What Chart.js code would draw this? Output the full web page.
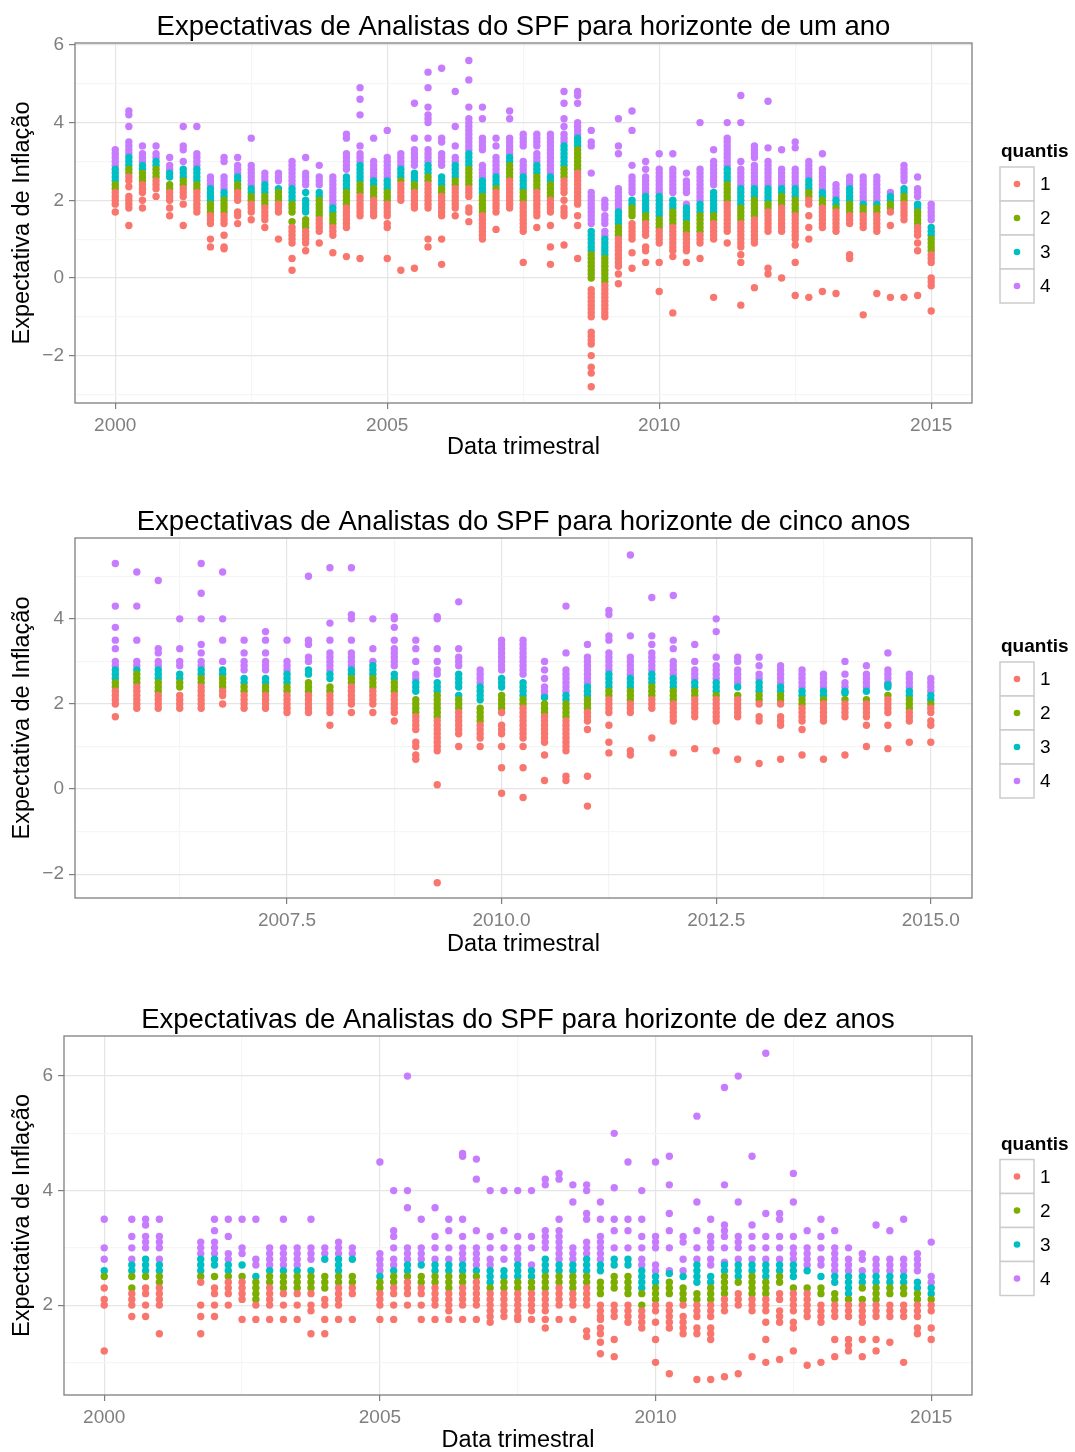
<!DOCTYPE html>
<html lang="pt">
<head>
<meta charset="utf-8">
<title>Expectativas de Analistas do SPF</title>
<script src="https://cdn.jsdelivr.net/npm/chart.js@4.4.1/dist/chart.umd.min.js"></script>
<style>
  body { margin: 0; background: #fff; width: 1075px; height: 1452px; position: relative; overflow: hidden; }
  .painel { position: absolute; left: 0; width: 1075px; }
</style>
</head>
<body>
<div class="painel" style="top:0;height:470px"><canvas id="grafUmAno"></canvas></div>
<div class="painel" style="top:495px;height:470px"><canvas id="grafCincoAnos"></canvas></div>
<div class="painel" style="top:993px;height:459px"><canvas id="grafDezAnos"></canvas></div>
<script>
// Cada string = valores de um trimestre (separados por espaço), por quantil

// ---------- horizonte de um ano ----------
const umAnoDatas = [
  2000, 2000.25, 2000.5, 2000.75, 2001, 2001.25, 2001.5, 2001.75, 2002, 2002.25, 2002.5, 2002.75,
  2003, 2003.25, 2003.5, 2003.75, 2004, 2004.25, 2004.5, 2004.75, 2005, 2005.25, 2005.5, 2005.75,
  2006, 2006.25, 2006.5, 2006.75, 2007, 2007.25, 2007.5, 2007.75, 2008, 2008.25, 2008.5, 2008.75,
  2009, 2009.25, 2009.5, 2009.75, 2010, 2010.25, 2010.5, 2010.75, 2011, 2011.25, 2011.5, 2011.75,
  2012, 2012.25, 2012.5, 2012.75, 2013, 2013.25, 2013.5, 2013.75, 2014, 2014.25, 2014.5, 2014.75, 2015
];
const umAnoQ1 = [
  "1.7 1.9 2.0 2.1 2.2", "1.35 1.8 1.9 2.0 2.1 2.35 2.5 2.6", "1.8 2.0 2.2 2.3 2.4", "2.1 2.3 2.4 2.5",
  "1.6 1.8 2.0 2.1 2.2", "1.35 1.9 2.1 2.2 2.3", "1.7 1.8 1.9 2.0 2.1 2.2", "0.8 1.0 1.4 1.5 1.6",
  "0.75 0.8 1.1 1.4 1.5 1.6", "1.4 1.6 1.7 2.0 2.1 2.2", "1.5 1.7 1.8 1.9", "1.3 1.5 1.6 1.7 1.8",
  "1.0 1.7 1.8 1.9", "0.2 0.5 0.9 1.0 1.1 1.2 1.3", "0.7 0.9 1.0 1.1 1.2", "0.9 1.2 1.3 1.4 1.5",
  "0.65 1.1 1.2 1.3", "0.55 1.3 1.4 1.5 1.6 1.7 1.8", "0.5 1.6 1.7 1.8 1.9 2.0 2.1", "1.6 1.7 1.8 1.9 2.0",
  "0.5 1.3 1.4 1.6 1.7 1.8 1.9", "0.2 2.0 2.1 2.2 2.3 2.4", "0.25 1.8 1.9 2.0 2.1 2.2", "0.8 1.0 1.8 1.9 2.0 2.1 2.2 2.3 2.4",
  "0.35 1.0 1.6 1.7 1.8 1.9 2.0 2.1", "1.6 1.8 1.9 2.0 2.1 2.2 2.3", "1.45 1.7 1.8 2.1 2.2 2.3", "1.0 1.1 1.2 1.3 1.4 1.5 1.6",
  "1.25 1.7 1.8 1.9 2.0 2.1 2.2", "1.8 1.9 2.0 2.1 2.2 2.3 2.4 2.5", "0.4 1.2 1.3 1.4 1.5 1.6 1.7 1.8 1.9", "1.3 1.6 1.7 1.8 1.9 2.0 2.1 2.2",
  "0.35 0.8 1.35 1.7 1.8 1.9 2.0", "0.85 1.6 1.7 1.8 2.0 2.2 2.3 2.4 2.5", "0.5 1.35 1.6 1.9 2.0 2.1 2.2 2.3 2.4 2.5 2.6 2.7",
  "-2.8 -2.45 -2.3 -2.0 -1.7 -1.6 -1.5 -1.4 -1.0 -0.9 -0.8 -0.7 -0.6 -0.5 -0.4 -0.3",
  "-1.0 -0.9 -0.8 -0.7 -0.6 -0.5 -0.4 -0.3 -0.2", "-0.15 0.1 0.3 0.4 0.5 0.6 0.7 0.8 0.9 1.0", "0.25 0.65 1.0 1.1 1.2 1.3 1.4",
  "0.4 0.7 0.8 1.1 1.2 1.3 1.4", "-0.35 0.4 0.9 1.0 1.1 1.2", "-0.9 0.55 0.7 0.8 0.9 1.0 1.1 1.2 1.3", "0.4 0.7 0.8 0.9 1.0 1.1",
  "0.5 0.9 1.0 1.1", "-0.5 1.0 1.1 1.2 1.3 1.4", "0.9 1.2 1.3 1.4 1.5 1.6 1.7 1.8 1.9", "-0.7 0.4 0.6 0.8 0.9 1.0 1.1 1.2 1.3 1.4",
  "-0.25 0.9 1.0 1.1 1.2 1.3 1.4 1.5", "0.1 0.25 1.2 1.3 1.4 1.5 1.6 1.7", "0.0 1.2 1.3 1.4 1.5 1.6 1.7 1.8",
  "-0.45 0.4 0.85 1.0 1.1 1.2 1.3 1.4 1.5 1.6", "-0.5 1.0 1.3 1.6 1.9 2.0", "-0.35 1.3 1.4 1.5 1.6 1.7 1.8",
  "-0.4 1.2 1.3 1.4 1.5 1.6 1.7", "0.5 0.6 1.4 1.5 1.6", "-0.95 1.3 1.4 1.5 1.6", "-0.4 1.2 1.3 1.4 1.5 1.6",
  "-0.5 1.35 1.7", "-0.5 1.5 1.6 1.7 1.8 1.9", "-0.45 0.7 0.9 1.1 1.2 1.3", "-0.85 -0.2 -0.1 0.0 0.4 0.5 0.6"
];
const umAnoQ2 = [
  "2.3 2.4", "2.7 2.8", "2.5 2.6 2.7", "2.6 2.7 2.8", "2.3 2.4", "2.4 2.5", "2.3 2.4", "1.7 1.8 1.9",
  "1.7 1.8 1.9 2.0", "2.3 2.4", "2.0 2.1", "1.9 2.0 2.1", "2.0 2.1 2.2", "1.45 1.7 1.8 1.9", "1.3 1.4 1.5",
  "1.6 1.7 1.8 1.9 2.0", "1.4 1.5 1.6", "1.9 2.0 2.1 2.2", "2.2 2.3 2.4", "2.1 2.2 2.3", "2.0 2.1 2.2",
  "2.5", "2.3 2.4", "2.5 2.6", "2.2 2.3", "2.4 2.5", "2.4 2.5 2.6 2.7 2.8", "1.7 1.8 1.9 2.0 2.1", "2.3",
  "2.6 2.7 2.8 2.9", "2.0 2.1 2.2", "2.3 2.4 2.5 2.6", "2.1 2.2 2.3 2.4", "2.6 2.7 2.8", "2.8 2.9 3.0 3.1 3.2 3.3",
  "0.0 0.1 0.2 0.3 0.4 0.5 0.6", "-0.1 0.0 0.1 0.2 0.3 0.4 0.5", "1.1 1.2 1.3", "1.6 1.7 1.8", "1.5 1.6",
  "1.3 1.4 1.5", "1.4 1.5 1.6 1.7", "1.2 1.3 1.4", "1.2 1.3 1.4 1.5 1.6", "1.5 1.6", "2.0 2.1 2.2 2.3 2.4",
  "1.5 1.6 1.7 1.8", "1.6 1.7 1.8 1.9 2.0", "1.8 1.9", "1.9 2.0 2.1", "1.7 1.8 1.9 2.0", "2.1 2.2", "1.9 2.0",
  "1.8", "1.7 1.8 1.9", "1.7 1.8", "1.7 1.8", "1.8 1.9", "2.0 2.1", "1.4 1.5 1.6 1.7", "0.7 0.8 0.9 1.0"
];
const umAnoQ3 = [
  "2.5 2.6 2.7 2.8", "2.9 3.0 3.1", "2.8 2.9", "2.9 3.0", "2.6 2.7", "2.6 2.7 2.8", "2.5 2.6 2.7 2.8", "2.0 2.1 2.2 2.3",
  "2.1 2.2", "2.5 2.6", "2.2 2.3", "2.2 2.3 2.4", "2.3", "2.0 2.1 2.2 2.3", "1.7 1.8 1.9 2.0 2.2",
  "2.1 2.2", "1.7 1.8", "2.3 2.4 2.5 2.6", "2.5 2.6 2.7 2.8 2.9", "2.4 2.5", "2.3 2.4 2.5",
  "2.6 2.7 2.8", "2.5 2.6 2.7", "2.7 2.8 2.9", "2.4 2.5 2.6", "2.6 2.7 2.8 2.9", "2.9 3.0 3.1 3.2", "2.2 2.3 2.4 2.5", "2.4 2.5 2.6",
  "3.0 3.1", "2.3 2.4 2.5 2.6", "2.7 2.8 2.9", "2.5 2.6", "2.9 3.0 3.1 3.2 3.3 3.4", "3.4 3.5 3.6",
  "0.7 0.8 0.9 1.0 1.1 1.2", "0.6 0.7 0.8 0.9 1.0", "1.4 1.5 1.6 1.7", "1.9 2.0", "1.7 1.8 1.9 2.0 2.1",
  "1.6 1.7 1.8 1.9 2.0 2.1", "1.8 1.9 2.0", "1.5 1.6 1.7 1.8", "1.7 1.8 1.9", "1.7 1.8 1.9 2.0 2.1 2.2", "2.5 2.6 2.7 2.8",
  "1.9 2.0 2.1 2.2 2.3", "2.1 2.2 2.3", "2.0 2.1 2.2 2.3", "2.2 2.3", "2.1 2.2 2.3", "2.3 2.4 2.5", "2.1 2.2",
  "1.9 2.0", "2.0 2.1 2.2 2.3", "1.9", "1.9", "2.0 2.1", "2.2 2.3", "1.8 1.9", "1.1 1.2 1.3"
];
const umAnoQ4 = [
  "2.9 3.0 3.1 3.2 3.3", "3.2 3.3 3.4 3.5 3.9 4.2 4.3", "3.0 3.1 3.2 3.4", "3.1 3.2 3.4", "2.8 2.9 3.1",
  "3.0 3.3 3.4 3.9", "2.9 3.0 3.1 3.2 3.9", "2.4 2.5 2.6", "2.3 2.4 2.5 2.6 3.0 3.1", "2.7 2.8 2.9 3.1",
  "2.4 2.5 2.6 2.7 2.8 2.9 3.6", "2.5 2.6 2.7", "2.5 2.6 2.7", "2.4 2.5 2.6 2.7 2.8 2.9 3.0", "2.4 2.5 2.6 2.7 3.1",
  "2.4 2.5 2.6 2.9", "1.9 2.0 2.1 2.2 2.3 2.4 2.5 2.6", "2.8 2.9 3.0 3.1 3.2 3.6 3.7", "3.0 3.1 3.2 3.4 4.2 4.6 4.9",
  "2.6 2.7 2.8 2.9 3.0 3.6", "2.6 2.7 2.8 2.9 3.0 3.1 3.8", "2.9 3.0 3.1 3.2", "2.9 3.0 3.1 3.2 3.3 3.6 4.5",
  "3.0 3.1 3.2 3.3 3.6 4.0 4.1 4.2 4.4 4.9 5.3", "2.9 3.0 3.1 3.2 3.5 3.6 5.4", "3.0 3.1 3.4 3.9 4.8",
  "3.3 3.4 3.5 3.6 3.7 3.8 3.9 4.0 4.1 4.4 5.1 5.6", "2.6 2.7 2.8 2.9 3.3 3.4 3.5 3.6 4.1 4.4", "2.7 2.8 2.9 3.0 3.1 3.4 3.6",
  "3.2 3.3 3.4 3.5 3.6 4.1 4.3", "2.7 2.8 2.9 3.0 3.4 3.5 3.6 3.7", "3.0 3.1 3.2 3.4 3.5 3.6 3.7",
  "2.7 2.8 2.9 3.0 3.1 3.2 3.3 3.4 3.5 3.6 3.7", "3.5 3.6 3.7 3.9 4.1 4.5 4.8", "3.7 3.8 3.9 4.0 4.5 4.7 4.8",
  "1.4 1.5 1.6 1.7 1.8 1.9 2.0 2.1 2.2 2.7 3.4 3.5 3.8", "1.1 1.2 1.4 1.5 1.6 1.8 1.9 2.0", "1.8 1.9 2.0 2.1 2.2 2.3 3.2 3.4 4.1",
  "2.2 2.3 2.4 2.5 2.6 2.9 3.8 4.3", "2.2 2.3 2.4 2.5 2.6 2.8 3.0", "2.2 2.3 2.4 2.5 2.6 2.7 2.8 3.2",
  "2.2 2.3 2.4 2.5 2.6 2.7 2.8 3.2", "1.9 2.2 2.3 2.4 2.5 2.7", "2.0 2.1 2.2 2.3 2.4 2.5 2.6 2.7 2.8 4.0",
  "2.4 2.5 2.6 2.7 2.8 2.9 3.0 3.3", "2.9 3.0 3.1 3.2 3.3 3.4 3.5 3.6 4.0", "2.4 2.5 2.6 2.7 2.8 3.0 4.0 4.7",
  "2.4 2.5 2.6 2.7 2.8 2.9 3.1 3.2 3.3 3.4", "2.4 2.5 2.6 2.7 2.8 2.9 3.0 3.35 4.55", "2.4 2.5 2.6 2.7 2.8 3.3",
  "2.4 2.5 2.6 2.7 2.8 3.35 3.5", "2.6 2.7 2.8 2.9 3.0", "2.3 2.4 2.5 2.6 2.7 2.8 3.2", "2.1 2.2 2.3 2.4",
  "2.4 2.5 2.6", "2.0 2.1 2.2 2.3 2.4 2.5 2.6", "2.0 2.1 2.2 2.3 2.4 2.5 2.6", "2.2", "2.5 2.6 2.7 2.8 2.9",
  "2.1 2.2 2.3 2.6", "1.5 1.6 1.7 1.8 1.9"
];

// ---------- horizonte de cinco anos ----------
const cincoAnosDatas = [
  2005.5, 2005.75, 2006, 2006.25, 2006.5, 2006.75, 2007, 2007.25, 2007.5, 2007.75, 2008, 2008.25, 2008.5,
  2008.75, 2009, 2009.25, 2009.5, 2009.75, 2010, 2010.25, 2010.5, 2010.75, 2011, 2011.25, 2011.5, 2011.75,
  2012, 2012.25, 2012.5, 2012.75, 2013, 2013.25, 2013.5, 2013.75, 2014, 2014.25, 2014.5, 2014.75, 2015
];
const cincoAnosQ1 = [
  "1.7 2.0 2.1 2.2 2.3", "1.9 2.0 2.1 2.2 2.3 2.4", "1.9 2.0 2.1 2.2", "1.9 2.0 2.1 2.2", "1.9 2.0 2.1 2.2 2.3 2.4",
  "2.0 2.2 2.3", "1.9 2.0 2.1 2.2", "1.9 2.0 2.1 2.2", "1.8 1.9 2.0 2.1 2.2", "1.8 1.9 2.0 2.1 2.2",
  "1.5 1.8 1.9 2.0 2.1 2.2", "1.8 2.0 2.1 2.2 2.3 2.4", "1.8 2.0 2.1 2.2 2.3", "1.6 1.8 1.9 2.0 2.1 2.2",
  "0.7 0.8 1.0 1.1 1.4 1.5 1.6 1.7", "-2.2 0.1 0.9 1.0 1.1 1.2 1.3 1.4 1.5 1.6", "1.0 1.3 1.4 1.5 1.6 1.7 1.8",
  "1.0 1.2 1.3 1.4 1.5", "-0.1 0.5 1.0 1.3 1.4 1.5 1.8", "-0.2 0.5 1.0 1.2 1.3 1.4 1.5 1.6 1.7 1.8 1.9",
  "0.2 0.8 1.1 1.2 1.3 1.4 1.5 1.6 1.7", "0.2 0.3 0.9 1.0 1.1 1.2 1.3 1.4 1.5 1.6", "-0.4 0.3 1.4 1.6 1.7 1.8",
  "0.85 1.1 1.5 1.8 1.9 2.0 2.1", "0.8 0.9 1.8 1.9 2.0", "1.2 1.9 2.0 2.1", "0.85 1.6 1.7 1.8 1.9 2.0",
  "0.95 1.7 1.8 1.9 2.0 2.1", "0.9 1.6 1.7 1.8 1.9 2.0 2.1", "0.7 1.7 1.8 1.9 2.0 2.1", "0.6 1.6 1.7 2.0",
  "0.7 1.5 1.6 1.7 2.0", "0.8 1.4 1.6 1.7 1.8 1.9", "0.7 1.6 1.7 1.8 1.9 2.0", "0.8 1.7 1.8 1.9 2.0",
  "1.0 1.5 1.7 1.8 1.9 2.0", "0.95 1.5 1.8 1.9 2.0 2.1", "1.1 1.6 1.7 1.8", "1.1 1.5 1.6 1.8 1.9"
];
const cincoAnosQ2 = [
  "2.4 2.5", "2.5 2.6 2.7", "2.3 2.4 2.5", "2.4 2.5", "2.5 2.6", "2.4 2.5 2.6", "2.3 2.4", "2.3 2.4", "2.3 2.4",
  "2.3 2.4 2.5", "2.3 2.4", "2.5 2.6", "2.4 2.5 2.6", "2.3 2.4 2.5", "1.8 1.9 2.0 2.1", "1.7 1.8 1.9 2.0 2.1 2.2",
  "1.9 2.0 2.1", "1.6 1.7 1.8 1.9", "1.9 2.0 2.1 2.2", "2.0 2.1", "1.8 1.9 2.0", "1.7 1.8 1.9 2.0", "1.9 2.0 2.1",
  "2.2 2.3", "2.1 2.2 2.3", "2.2 2.3 2.4", "2.1 2.2 2.3", "2.2 2.3", "2.2", "2.2", "2.1 2.2", "2.1 2.2", "2.0 2.1",
  "2.1", "2.1", "2.1", "2.2", "1.9 2.0 2.1", "2.0"
];
const cincoAnosQ3 = [
  "2.6 2.7 2.8", "2.8", "2.6 2.7 2.8", "2.6 2.7", "2.7 2.8", "2.7 2.8", "2.5 2.6", "2.5 2.6", "2.5 2.6 2.7",
  "2.7 2.8", "2.6 2.7", "2.7 2.8", "2.7 2.8 2.9", "2.6 2.7", "2.3 2.4 2.5", "2.3 2.4 2.5", "2.2 2.4 2.5 2.6 2.7",
  "2.1 2.2 2.3 2.4", "2.4 2.5 2.6", "2.2 2.3 2.4 2.5", "2.15", "2.1 2.2", "2.2 2.3 2.4", "2.4 2.5 2.6 2.7",
  "2.4 2.5 2.6", "2.5 2.6 2.7", "2.4 2.5 2.6", "2.4 2.5", "2.3 2.4 2.5", "2.4", "2.3 2.4 2.5", "2.3 2.4",
  "2.2 2.3", "2.2 2.3", "2.25 2.3", "2.3", "2.4 2.45", "2.2 2.3", "2.1 2.2"
];
const cincoAnosQ4 = [
  "2.9 3.0 3.3 3.5 3.8 4.3 5.3", "2.9 3.0 3.5 4.3 5.1", "2.9 3.0 3.2 3.3 4.9", "2.9 3.0 3.3 4.0",
  "2.9 3.0 3.2 3.4 4.0 4.6 5.3", "3.0 3.5 4.0 5.1", "2.8 2.9 3.0 3.2 3.5", "2.8 2.9 3.0 3.2 3.5 3.7",
  "2.8 2.9 3.0 3.5", "3.0 3.1 3.4 3.5 5.0", "2.8 2.9 3.0 3.1 3.2 3.5 3.9 5.2", "2.9 3.0 3.1 3.2 3.5 4.0 4.1 5.2",
  "3.0 3.3 4.0", "2.9 3.0 3.1 3.2 3.3 3.5 3.8 4.0 4.05", "2.6 2.7 3.0 3.3 3.5", "2.7 2.8 3.0 3.3 4.0 4.05",
  "2.9 3.0 3.1 3.3 4.4", "2.5 2.6 2.7 2.8", "2.8 2.9 3.0 3.1 3.2 3.3 3.4 3.5", "2.7 2.8 2.9 3.0 3.1 3.2 3.3 3.4 3.5",
  "2.2 2.3 2.4 2.6 2.8 3.0", "2.3 2.4 2.5 2.6 2.7 2.8 3.2 4.3", "2.5 2.6 2.7 2.8 2.9 3.0 3.1 3.4",
  "2.8 2.9 3.0 3.1 3.2 3.5 3.6 4.1 4.2", "2.7 2.8 2.9 3.0 3.1 3.6 5.5", "2.8 2.9 3.0 3.1 3.2 3.4 3.6 4.5",
  "2.7 2.8 2.9 3.0 3.3 3.5 4.55", "2.6 2.7 2.8 3.0 3.4", "2.6 2.7 2.8 2.9 3.1 3.7 4.0", "2.5 2.6 2.7 2.8 3.0 3.1",
  "2.6 2.7 2.9 3.1", "2.5 2.6 2.7 2.8 2.9", "2.4 2.5 2.6 2.7 2.8", "2.4 2.5 2.6 2.7", "2.4 2.5 2.7 3.0",
  "2.4 2.5 2.6 2.7 2.9", "2.5 2.6 2.7 2.8 3.2", "2.4 2.5 2.6 2.7", "2.3 2.4 2.5 2.6"
];

// ---------- horizonte de dez anos ----------
const dezAnosDatas = [
  2000, 2000.5, 2000.75, 2001, 2001.75, 2002, 2002.25, 2002.5, 2002.75, 2003, 2003.25, 2003.5, 2003.75,
  2004, 2004.25, 2004.5, 2005, 2005.25, 2005.5, 2005.75, 2006, 2006.25, 2006.5, 2006.75, 2007, 2007.25,
  2007.5, 2007.75, 2008, 2008.25, 2008.5, 2008.75, 2009, 2009.25, 2009.5, 2009.75, 2010, 2010.25, 2010.5,
  2010.75, 2011, 2011.25, 2011.5, 2011.75, 2012, 2012.25, 2012.5, 2012.75, 2013, 2013.25, 2013.5, 2013.75,
  2014, 2014.25, 2014.5, 2014.75, 2015
];
const dezAnosQ1 = [
  "1.2 2.0 2.1 2.3", "1.8 2.0 2.1 2.2", "1.8 2.0 2.2 2.3", "1.5 2.0 2.1 2.2 2.3", "1.5 1.8 2.0 2.4",
  "1.8 2.0 2.2 2.3", "2.0 2.2 2.3 2.4", "1.75 2.1 2.2 2.3 2.4", "1.75 2.0", "1.75 2.0 2.1 2.2 2.3",
  "1.75 2.0 2.2", "1.75 2.0 2.2", "1.5 1.9 2.0 2.2", "1.5 1.75 2.0 2.1", "1.75 2.0 2.1 2.2 2.3", "1.75 2.2 2.3",
  "1.75 2.0 2.1 2.2", "1.75 2.0 2.2 2.3", "2.0 2.2 2.3 2.4", "1.75 2.0 2.2 2.3", "1.75 2.0 2.1 2.2 2.3",
  "1.75 1.9 2.0 2.1 2.2", "1.75 2.0 2.1 2.2 2.3", "1.75 2.0 2.1 2.2 2.3 2.4", "1.7 1.8 1.9 2.0 2.1 2.2",
  "1.8 1.9 2.0 2.1 2.2", "1.75 1.8 1.9 2.0 2.1 2.2", "1.75 1.9 2.0 2.1 2.2", "1.6 1.75 1.9 2.0 2.1 2.2",
  "1.75 2.0 2.1 2.2 2.3", "1.75 2.0 2.1 2.2", "1.45 1.55 2.0 2.1 2.2 2.3", "1.15 1.35 1.5 1.6 1.75 1.8 1.9 2.0",
  "1.1 1.4 1.8 1.9 2.0", "1.7 1.8 1.9 2.0", "1.6 1.7 1.8 1.9", "1.0 1.4 1.7 1.9 2.0", "0.8 1.6 1.7 1.8 1.9 2.0",
  "1.5 1.6 1.7 1.8 2.0", "0.7 1.5 1.6 1.8 1.9 2.0", "0.7 1.4 1.5 1.6 1.8 1.9 2.0", "0.75 1.9 2.0 2.1",
  "0.8 2.0 2.1 2.2", "1.1 1.9 2.0 2.1", "1.0 1.4 1.7 1.9 2.0 2.1", "1.05 1.7 1.8 1.9 2.1 2.2",
  "1.2 1.6 1.7 1.9 2.0 2.1 2.2", "0.95 1.8 1.9 2.0 2.1 2.2", "1.0 1.7 1.8 1.9 2.0", "1.1 1.4 1.8 1.9 2.0",
  "1.2 1.3 1.4 1.8 1.9 2.0", "1.1 1.4 1.7 1.8 1.9 2.0", "1.2 1.4 1.8 1.9 2.0", "1.35 1.8 1.9 2.0",
  "1.0 1.8 1.9 2.0", "1.5 1.6 1.8 1.9 2.0", "1.4 1.6 1.9 2.0"
];
const dezAnosQ2 = [
  "2.5", "2.3 2.5", "2.5", "2.4 2.5", "2.5", "2.5", "2.5", "2.5", "2.1 2.2 2.3 2.4", "2.4 2.5", "2.3 2.4 2.5",
  "2.3 2.4 2.5", "2.3 2.4 2.5", "2.3 2.4 2.5", "2.4 2.5", "2.4 2.5", "2.3 2.4", "2.4 2.5", "2.5", "2.4 2.5",
  "2.4 2.5", "2.3 2.4 2.5", "2.4 2.5", "2.5", "2.3", "2.3 2.4", "2.3 2.4", "2.3 2.4", "2.3 2.4 2.5", "2.4 2.5",
  "2.3 2.4 2.5", "2.4 2.5", "2.2 2.3 2.4", "2.3 2.4 2.5", "2.2 2.3 2.4 2.5", "2.0 2.2", "2.1 2.2 2.3",
  "2.2 2.3 2.4", "2.1 2.2 2.3", "2.1 2.2", "2.1 2.2 2.3", "2.2 2.3 2.4 2.5", "2.4", "2.2 2.3 2.4 2.5",
  "2.2 2.3 2.4", "2.4 2.5", "2.3", "2.3", "2.2 2.3", "2.1 2.2", "2.1", "2.1 2.3", "2.1 2.2 2.3", "2.2 2.3",
  "2.2 2.3", "2.1 2.2", "2.1"
];
const dezAnosQ3 = [
  "2.6", "2.6 2.7", "2.6 2.7 2.8", "2.6 2.7", "2.6 2.7 2.8", "2.7 2.8", "2.6 2.7", "2.7", "2.5", "2.6", "2.6",
  "2.6", "2.6", "2.8", "2.6 2.7 2.8", "2.8", "2.5", "2.6", "2.6 2.7", "2.7", "2.6 2.7", "2.6 2.7", "2.6 2.7",
  "2.6", "2.4 2.5 2.6", "2.5 2.6", "2.5 2.6 2.7", "2.5 2.6", "2.6 2.7 2.8", "2.6 2.7", "2.6 2.7", "2.6 2.7 2.8",
  "2.6 2.7", "2.7 2.8", "2.7 2.8", "2.3 2.4 2.5 2.6", "2.4 2.5", "2.55", "2.5", "2.4 2.5 2.6 2.7", "2.4 2.5",
  "2.6 2.7", "2.5 2.6 2.7", "2.6 2.7", "2.5 2.6 2.7", "2.6 2.7", "2.5 2.6 2.7", "2.6", "2.5", "2.4 2.5",
  "2.2 2.3 2.4 2.5", "2.4 2.5", "2.4 2.5", "2.4 2.5", "2.4 2.5", "2.3 2.4", "2.2 2.3"
];
const dezAnosQ4 = [
  "2.8 3.0 3.5", "2.8 3.0 3.2 3.5", "3.0 3.1 3.2 3.4 3.5", "2.8 3.0 3.1 3.2 3.5", "2.9 3.0 3.1",
  "2.9 3.0 3.1 3.3 3.5", "2.8 2.9 3.2 3.5", "2.9 3.0 3.5", "2.7 2.8 3.5", "2.7 2.8 2.9 3.0",
  "2.7 2.8 2.9 3.0 3.5", "2.7 2.8 2.9 3.0", "2.8 2.9 3.0 3.5", "2.9 3.0", "2.9 3.0 3.1", "2.9 3.0",
  "2.6 2.7 2.8 2.9 4.5", "2.7 2.8 3.0 3.2 3.3 4.0", "2.8 2.9 3.0 3.7 4.0 6.0", "2.8 2.9 3.0 3.5",
  "2.8 3.0 3.2 3.7", "2.8 3.0 3.3 3.5", "2.8 2.9 3.0 3.2 3.5 4.6 4.65", "2.7 2.8 2.9 3.0 3.3 4.2 4.55",
  "2.7 2.8 3.0 3.2 4.0", "2.8 3.0 3.3 4.0", "2.8 2.9 3.0 3.2 4.0", "2.7 3.0 3.2 4.0", "3.0 3.1 3.2 3.3 4.1 4.2",
  "2.8 2.9 3.0 3.1 3.2 3.3 3.5 4.2 4.3", "2.8 2.9 3.0 3.8 4.1", "2.9 3.0 3.1 3.5 3.6 4.0 4.1",
  "2.8 2.9 3.0 3.1 3.2 3.5 3.8", "3.0 3.3 3.5 4.05 5.0", "3.0 3.3 3.5 4.5", "2.7 2.8 3.0 3.2 3.5 4.0",
  "2.6 2.7 3.0 3.1 3.2 4.5", "2.6 3.0 3.3 3.6 4.1 4.6", "2.6 2.8 3.1 3.2", "2.8 3.0 3.3 3.8 5.3",
  "2.7 2.8 3.0 3.1 3.2 3.5", "2.75 3.0 3.2 3.3 3.4 4.1 5.8", "2.8 3.0 3.1 3.2 3.8 6.0", "2.8 3.0 3.2 3.4 4.6",
  "2.8 3.0 3.2 3.6 6.4", "2.8 3.0 3.2 3.5 3.6", "2.8 2.9 3.0 3.2 3.8 4.3", "2.7 2.8 2.9 3.0 3.3",
  "2.7 2.8 3.0 3.2 3.5", "2.6 2.7 2.8 2.9 3.0 3.3", "2.6 2.7 2.8 3.0", "2.6 2.8 2.9", "2.6 2.7 2.8 3.4",
  "2.6 2.7 2.8 3.3", "2.6 2.7 2.8 3.5", "2.6 2.7 2.8 2.9", "2.4 2.5 3.1"
];

// ---------- eixos ----------
const anosPrincipais = [2000, 2005, 2010, 2015];
const anosSecundarios = [2002.5, 2007.5, 2012.5];
const cincoXPrincipais = [2007.5, 2010, 2012.5, 2015];
const cincoXSecundarios = [2006.25, 2008.75, 2011.25, 2013.75];
const umAnoYPrincipais = [-2, 0, 2, 4, 6];
const umAnoYSecundarios = [-3, -1, 1, 3, 5];
const cincoYPrincipais = [-2, 0, 2, 4];
const cincoYSecundarios = [-1, 1, 3, 5];
const dezYPrincipais = [2, 4, 6];
const dezYSecundarios = [1, 3, 5];

const quantis = ['1', '2', '3', '4'];
const coresQuantis = ['#F8766D', '#7CAE00', '#00BFC4', '#C77CFF'];

const FONTE = '"Liberation Sans", Arial, Helvetica, sans-serif';
Chart.defaults.font.family = FONTE;

function montarPontos(datas, valores) {
  const pontos = [];
  datas.forEach((d, i) => {
    valores[i].trim().split(/\s+/).forEach(v => pontos.push({ x: d, y: parseFloat(v) }));
  });
  return pontos;
}

function formatoNumero(v) {
  return v < 0 ? '\u2212' + Math.abs(v) : String(v);
}

function eixo(min, max, principais, secundarios, formato, extra) {
  const ehPrincipal = v => principais.includes(v);
  return Object.assign({
    type: 'linear',
    min: min,
    max: max,
    afterBuildTicks: s => {
      s.ticks = principais.concat(secundarios).sort((a, b) => a - b).map(v => ({ value: v }));
    },
    ticks: {
      autoSkip: false,
      maxRotation: 0,
      padding: 5,
      color: '#7F7F7F',
      font: { size: 19 },
      callback: v => ehPrincipal(v) ? formato(v) : ''
    },
    grid: {
      color: c => (c.tick && ehPrincipal(c.tick.value)) ? '#E5E5E5' : '#F5F5F5',
      lineWidth: 1.2,
      tickLength: 6,
      tickWidth: 1.2,
      tickColor: c => (c.tick && ehPrincipal(c.tick.value)) ? '#7F7F7F' : 'rgba(0,0,0,0)'
    },
    border: { display: false }
  }, extra);
}

const bordaPainel = {
  id: 'bordaPainel',
  afterDatasetsDraw(chart) {
    const { ctx, chartArea: a } = chart;
    ctx.save();
    ctx.strokeStyle = '#7F7F7F';
    ctx.lineWidth = 1.3;
    ctx.strokeRect(a.left, a.top, a.right - a.left, a.bottom - a.top);
    ctx.restore();
  }
};

const legendaQuantis = {
  id: 'legendaQuantis',
  afterDraw(chart) {
    const { ctx, chartArea: a } = chart;
    const meio = (a.top + a.bottom) / 2;
    const x0 = 1000, lado = 34;
    ctx.save();
    ctx.textBaseline = 'middle';
    ctx.textAlign = 'left';
    ctx.fillStyle = '#000';
    ctx.font = 'bold 19px ' + FONTE;
    ctx.fillText('quantis', x0 + 1, meio - 71);
    chart.data.datasets.forEach((ds, k) => {
      const y0 = meio - 56 + k * lado;
      ctx.fillStyle = '#fff';
      ctx.fillRect(x0, y0, lado, lado);
      ctx.strokeStyle = '#CCCCCC';
      ctx.lineWidth = 1.5;
      ctx.strokeRect(x0, y0, lado, lado);
      ctx.beginPath();
      ctx.arc(x0 + lado / 2, y0 + lado / 2, 3.3, 0, Math.PI * 2);
      ctx.fillStyle = ds.backgroundColor;
      ctx.fill();
      ctx.fillStyle = '#000';
      ctx.font = '19px ' + FONTE;
      ctx.fillText(ds.label, x0 + lado + 6, y0 + lado / 2 + 1);
    });
    ctx.restore();
  }
};

function criarGrafico(id, cfg) {
  const datasets = [cfg.q1, cfg.q2, cfg.q3, cfg.q4].map((valores, k) => ({
    label: quantis[k],
    data: montarPontos(cfg.datas, valores),
    backgroundColor: coresQuantis[k],
    borderWidth: 0,
    pointRadius: 3.7,
    pointHoverRadius: 3.7
  }));

  return new Chart(document.getElementById(id), {
    type: 'scatter',
    data: { datasets: datasets },
    options: {
      responsive: true,
      maintainAspectRatio: false,
      animation: false,
      events: [],
      layout: { padding: { left: 0, right: 103, top: 0, bottom: 0 } },
      plugins: {
        legend: { display: false },
        tooltip: { enabled: false },
        title: {
          display: true,
          text: cfg.titulo,
          fullSize: false,
          color: '#000',
          font: { size: 27.5, weight: 'normal', lineHeight: 1.1 },
          padding: { top: 12.75, bottom: 0 }
        }
      },
      scales: {
        x: eixo(cfg.xMin, cfg.xMax, cfg.xPrincipais, cfg.xSecundarios, cfg.xFormato, {
          afterFit: s => { s.height = cfg.alturaX; },
          title: {
            display: true, text: 'Data trimestral', color: '#000',
            font: { size: 23.5, lineHeight: 1 },
            padding: { top: 0, bottom: cfg.tituloXBase }
          }
        }),
        y: eixo(cfg.yMin, cfg.yMax, cfg.yPrincipais, cfg.ySecundarios, formatoNumero, {
          afterFit: s => { s.width = cfg.larguraY; },
          title: {
            display: true, text: 'Expectativa de Inflação', color: '#000',
            font: { size: 23.5, lineHeight: 1 },
            padding: { top: 11, bottom: 0 }
          }
        })
      }
    },
    plugins: [bordaPainel, legendaQuantis]
  });
}

criarGrafico('grafUmAno', {
  titulo: 'Expectativas de Analistas do SPF para horizonte de um ano',
  datas: umAnoDatas, q1: umAnoQ1, q2: umAnoQ2, q3: umAnoQ3, q4: umAnoQ4,
  xMin: 1999.26, xMax: 2015.75, xPrincipais: anosPrincipais, xSecundarios: anosSecundarios, xFormato: v => String(v),
  yMin: -3.22, yMax: 6.05, yPrincipais: umAnoYPrincipais, ySecundarios: umAnoYSecundarios,
  alturaX: 67, tituloXBase: 10.5, larguraY: 75
});

criarGrafico('grafCincoAnos', {
  titulo: 'Expectativas de Analistas do SPF para horizonte de cinco anos',
  datas: cincoAnosDatas, q1: cincoAnosQ1, q2: cincoAnosQ2, q3: cincoAnosQ3, q4: cincoAnosQ4,
  xMin: 2005.03, xMax: 2015.48, xPrincipais: cincoXPrincipais, xSecundarios: cincoXSecundarios, xFormato: v => v.toFixed(1),
  yMin: -2.56, yMax: 5.9, yPrincipais: cincoYPrincipais, ySecundarios: cincoYSecundarios,
  alturaX: 67, tituloXBase: 8.5, larguraY: 75
});

criarGrafico('grafDezAnos', {
  titulo: 'Expectativas de Analistas do SPF para horizonte de dez anos',
  datas: dezAnosDatas, q1: dezAnosQ1, q2: dezAnosQ2, q3: dezAnosQ3, q4: dezAnosQ4,
  xMin: 1999.27, xMax: 2015.74, xPrincipais: anosPrincipais, xSecundarios: anosSecundarios, xFormato: v => String(v),
  yMin: 0.43, yMax: 6.7, yPrincipais: dezYPrincipais, ySecundarios: dezYSecundarios,
  alturaX: 57, tituloXBase: 0, larguraY: 64
});
</script>
</body>
</html>
